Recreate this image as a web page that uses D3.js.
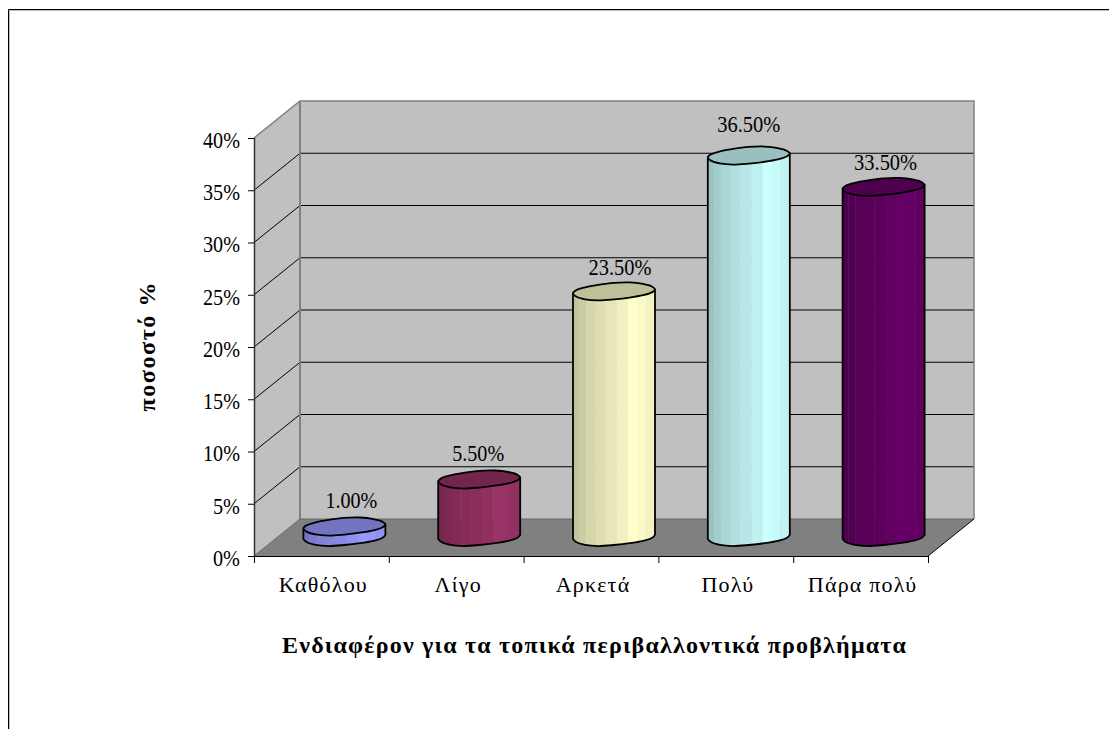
<!DOCTYPE html>
<html><head><meta charset="utf-8">
<script src="https://cdn.jsdelivr.net/npm/d3@7"></script>
<style>html,body{margin:0;padding:0;background:#fff}svg{display:block}text{font-family:"Liberation Serif","Times New Roman",serif;fill:#000}</style>
</head><body><svg id="c" width="1109" height="729"></svg>
<script>
const categories = ["Καθόλου","Λίγο","Αρκετά","Πολύ","Πάρα πολύ"];
const values = [1.0,5.5,23.5,36.5,33.5];
const valueLabels = ["1.00%","5.50%","23.50%","36.50%","33.50%"];
const colors = ["#9999FF","#993366","#FFFFCC","#CCFFFF","#660066"];
const yTicks = [0,5,10,15,20,25,30,35,40];
const xTitle = "Ενδιαφέρον για τα τοπικά περιβαλλοντικά προβλήματα";
const yTitle = "ποσοστό %";
const labelNudgeX = [7,-1,6,0,2];
const labelNudgeY = [-19,-19,-16,-24,-17];
// facet shading across a cylinder, left to right
const facetEdges = [0,.07,.155,.27,.385,.53,.67,.78,.885,1];
const facetShade = [.76,.80,.84,.87,.90,.94,1,.98,.95];
const wobble = [1,.92,.92,.94,1.0,1.12,1.14,1.05,1,1.0,.98,1.0,1.08,1.12,1.08,1.0];

const W=1109,H=729;
const svg=d3.select("#c");
const L=254,R=928,T=138,B=556,DX=46,DY=37;
const x=d3.scaleBand().domain(categories).range([L,R]).paddingInner(0);
const y=d3.scaleLinear().domain([0,40]).range([B,T]);
const rx=41,ry=8;

svg.append("path").attr("d",`M9.5,${H}V10.5H${W}`).attr("fill","none").attr("stroke","#bbb");
svg.append("path").attr("d",`M8.5,${H}V9.5H${W}`).attr("fill","none").attr("stroke","#000");

// walls
svg.append("polygon").attr("points",[[L,y(40)],[L+DX,y(40)-DY],[L+DX,B-DY],[L,B]].join(" ")).attr("fill","#c0c0c0");
svg.append("polygon").attr("points",[[L+DX,y(40)-DY],[R+DX,y(40)-DY],[R+DX,B-DY],[L+DX,B-DY]].join(" ")).attr("fill","#c0c0c0");
svg.append("polygon").attr("points",[[L,B],[L+DX,B-DY],[R+DX,B-DY],[R,B]].join(" ")).attr("fill","#808080");
// gridlines
yTicks.filter(d=>d>0&&d<40).forEach(d=>{
  svg.append("path").attr("d",`M${L},${y(d)}L${L+DX},${y(d)-DY}H${R+DX}`).attr("fill","none").attr("stroke","#000").attr("stroke-width",1);
});
svg.append("path").attr("d",`M${L},${T}L${L+DX},${T-DY}H${R+DX}V${B-DY}`).attr("fill","none").attr("stroke","#808080").attr("stroke-width",1.5);
svg.append("path").attr("d",`M${L+DX},${T-DY}V${B-DY}`).attr("fill","none").attr("stroke","#808080").attr("stroke-width",2);
svg.append("path").attr("d",`M${L},${B}L${L+DX},${B-DY}H${R+DX}`).attr("fill","none").attr("stroke","#666").attr("stroke-width",1);
svg.append("path").attr("d",`M${R+DX},${B-DY}L${R},${B}`).attr("fill","none").attr("stroke","#000").attr("stroke-width",1);

// axes
const yAxis=d3.axisLeft(y).tickValues(yTicks).tickFormat(d=>d+"%").tickSize(6).tickPadding(8);
const gy=svg.append("g").attr("transform",`translate(${L},0)`).call(yAxis);
gy.selectAll("text").style("font-size","23px").attr("y",2).attr("textLength",37).attr("lengthAdjust","spacingAndGlyphs");
gy.selectAll("text").filter(d=>d<10).attr("textLength",27);
gy.select(".domain").attr("stroke","#333").attr("stroke-width",1.5).attr("d",`M0.5,${T}V${B}`);
gy.selectAll("line").attr("stroke","#000");
const xAxis=d3.axisBottom(x).tickSize(0).tickPadding(20);
const gx=svg.append("g").attr("transform",`translate(0,${B})`).call(xAxis);
gx.select(".domain").attr("stroke","#000").attr("d",`M${L},0.5H${R}`);
gx.selectAll("text").style("font-size","22px").style("letter-spacing","1.2px").attr("dx",2);
[...categories.map(c=>x(c)),R].forEach(v=>{
  gx.append("line").attr("x1",v+.5).attr("x2",v+.5).attr("y1",0).attr("y2",7).attr("stroke","#000");
});

// cylinders
const defs=svg.append("defs");
const N=wobble.length;
function pt(cx,cy,i){
  const t=i/N*2*Math.PI;
  return [cx+rx*Math.cos(t),cy+ry*Math.sin(t)*wobble[i%N]-2*Math.cos(t)];
}
const closed=d3.line().curve(d3.curveCatmullRomClosed.alpha(.5));
const open=d3.line().curve(d3.curveCatmullRom.alpha(.5));
categories.forEach((c,i)=>{
  const cx=x(c)+x.bandwidth()/2+DX/2;
  const base=B-DY/2-.5;
  const top=base-(B-y(values[i]));
  const ring=(cy)=>d3.range(N).map(k=>pt(cx,cy,k));
  const front=(cy)=>d3.range(0,N/2+1).map(k=>pt(cx,cy,k));
  const fT=front(top), fB=front(base);
  const bodyPath=open(fB)+"L"+fT[fT.length-1].join(",")+"L"+fT[0].join(",")+"Z";
  const g=svg.append("g");
  const id="clip"+i;
  defs.append("clipPath").attr("id",id).append("path").attr("d",bodyPath);
  const cc=d3.color(colors[i]);
  const shade=(f)=>d3.rgb(cc.r*f,cc.g*f,cc.b*f).formatHex();
  const gb=g.append("g").attr("clip-path",`url(#${id})`);
  gb.selectAll("rect").data(facetShade).join("rect")
    .attr("x",(d,k)=>cx-rx+facetEdges[k]*2*rx)
    .attr("width",(d,k)=>(facetEdges[k+1]-facetEdges[k])*2*rx+.4)
    .attr("y",top-ry-6).attr("height",base-top+2*ry+12)
    .attr("fill",d=>shade(d));
  g.append("path").attr("d",bodyPath).attr("fill","none").attr("stroke","#000").attr("stroke-width",1.8).attr("stroke-linejoin","round");
  g.append("path").attr("d",closed(ring(top))).attr("fill",shade(.75)).attr("stroke","#000").attr("stroke-width",1.8);
  svg.append("text").attr("x",cx+labelNudgeX[i]).attr("y",top+labelNudgeY[i]).attr("text-anchor","middle")
    .attr("textLength",valueLabels[i].length===5?52:63).attr("lengthAdjust","spacingAndGlyphs")
    .style("font-size","23px").text(valueLabels[i]);
});

svg.append("text").attr("x",594).attr("y",653).attr("text-anchor","middle").attr("textLength",624).style("font-size","24px").style("font-weight","bold").text(xTitle);
svg.append("text").attr("transform","translate(155,347) rotate(-90)").attr("text-anchor","middle").attr("textLength",129).style("font-size","24px").style("font-weight","bold").text(yTitle);
</script></body></html>
